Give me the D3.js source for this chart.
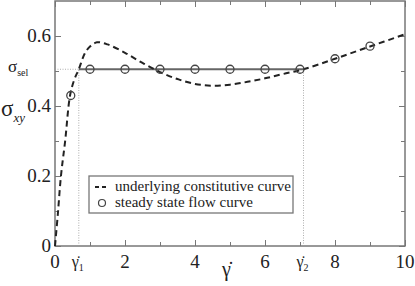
<!DOCTYPE html>
<html>
<head>
<meta charset="utf-8">
<script src="https://cdn.jsdelivr.net/npm/d3@7"></script>
</head>
<body style="margin:0; background:#fff">
<script>
// underlying constitutive curve
var curveGamma = [0, 0.08, 0.17, 0.29, 0.43, 0.55, 0.68, 0.85, 1.0, 1.2, 1.5, 2.0, 2.5, 3.0, 3.5, 4.0, 4.5, 5.0, 5.5, 6.0, 6.5, 7.1, 8.0, 9.0, 10.0];
var curveSigma = [0, 0.09, 0.2, 0.3, 0.43, 0.475, 0.505, 0.55, 0.57, 0.582, 0.576, 0.552, 0.523, 0.497, 0.477, 0.463, 0.458, 0.461, 0.469, 0.479, 0.491, 0.505, 0.535, 0.57, 0.605];

// steady state flow curve
var flowGamma = [0.45, 1, 2, 3, 4, 5, 6, 7, 8, 9];
var flowSigma = [0.43, 0.505, 0.505, 0.505, 0.505, 0.505, 0.505, 0.505, 0.535, 0.571];

var gamma1 = 0.68, gamma2 = 7.1, sigmaSel = 0.505;

var xMajor = [0, 2, 4, 6, 8, 10];
var xMinor = [1, 3, 5, 7, 9];
var yMajor = [0, 0.2, 0.4, 0.6];
var yMinor = [0.1, 0.3, 0.5];

var serif = "'Liberation Serif'";

var margin = { top: 1, right: 10, bottom: 40, left: 55 },
    width = 415 - margin.left - margin.right,
    height = 286 - margin.top - margin.bottom;

var x = d3.scaleLinear().domain([0, 10]).range([0, width]);
var y = d3.scaleLinear().domain([0, 0.7]).range([height, 0]);

var frameColor = "#777";

var svg = d3.select("body")
    .append("svg")
    .attr("width", 415)
    .attr("height", 286);

// ticks (inward, on all four sides), drawn with the axis generators
function tickAxis(axis, values, size) {
    return axis.tickValues(values).tickSize(-size).tickFormat("");
}
var axes = svg.append("g")
    .attr("transform", "translate(" + margin.left + "," + margin.top + ")");
[[d3.axisBottom(x), "translate(0," + height + ")", xMajor, 6],
 [d3.axisBottom(x), "translate(0," + height + ")", xMinor, 4],
 [d3.axisTop(x), "translate(0,0)", xMajor, 6],
 [d3.axisTop(x), "translate(0,0)", xMinor, 4],
 [d3.axisLeft(y), "translate(0,0)", yMajor, 6],
 [d3.axisLeft(y), "translate(0,0)", yMinor, 4],
 [d3.axisRight(y), "translate(" + width + ",0)", yMajor, 6],
 [d3.axisRight(y), "translate(" + width + ",0)", yMinor, 4]
].forEach(function (d) {
    var g = axes.append("g").attr("transform", d[1]).call(tickAxis(d[0], d[2], d[3]));
    g.select(".domain").remove();
    g.selectAll("text").remove();
    g.attr("font-family", null).attr("font-size", null);
    g.selectAll("line").attr("stroke", frameColor).attr("stroke-width", 1);
});

var svG = svg.append("g")
    .attr("transform", "translate(" + margin.left + "," + margin.top + ")");

function label(sel) {
    return sel.attr("font-family", "Liberation Serif").style("font-family", serif).attr("fill", "#222");
}

// frame
svG.append("rect")
    .attr("x", 0).attr("y", 0)
    .attr("width", width).attr("height", height)
    .attr("fill", "none")
    .attr("stroke", frameColor)
    .attr("stroke-width", 1.5);

// tick labels
svG.selectAll(".xlab")
    .data(xMajor)
    .enter()
    .append("text")
    .call(label)
    .attr("x", d => x(d))
    .attr("y", height + 22)
    .attr("text-anchor", "middle")
    .attr("font-size", 19)
    .text(d => d);

svG.selectAll(".ylab")
    .data(yMajor)
    .enter()
    .append("text")
    .call(label)
    .attr("x", -4)
    .attr("y", d => y(d) + 6)
    .attr("text-anchor", "end")
    .attr("font-size", 19)
    .text(d => d);

// gamma1 / gamma2 labels
[[gamma1, "1"], [gamma2, "2"]].forEach(function (d) {
    var t = svG.append("text")
        .call(label)
        .attr("x", x(d[0]) - 1)
        .attr("y", height + 21)
        .attr("text-anchor", "middle")
        .attr("font-size", 16);
    t.append("tspan").text("\u03b3\u0307");
    t.append("tspan").attr("font-size", 10).attr("dy", 4).text(d[1]);
});

// axis titles
svG.append("text")
    .call(label)
    .attr("x", x(4.9))
    .attr("y", height + 30)
    .attr("text-anchor", "middle")
    .attr("font-size", 20)
    .text("\u03b3\u0307");

var yt = svG.append("text")
    .call(label)
    .attr("x", -54)
    .attr("y", y(0.4) + 10)
    .attr("font-size", 23);
yt.append("tspan").text("\u03c3");
yt.append("tspan").attr("font-size", 13).attr("font-style", "italic").attr("dy", 6).text("xy");

var st = svG.append("text")
    .call(label)
    .attr("x", -47)
    .attr("y", y(sigmaSel) + 3)
    .attr("font-size", 17);
st.append("tspan").text("\u03c3");
st.append("tspan").attr("font-size", 10).attr("dy", 4).text("sel");

// dotted guide lines
var guides = [
    [[0, sigmaSel], [gamma1, sigmaSel]],
    [[gamma1, 0], [gamma1, sigmaSel]],
    [[gamma2, 0], [gamma2, sigmaSel]]
];
svG.selectAll(".guide")
    .data(guides)
    .enter()
    .append("line")
    .attr("x1", d => x(d[0][0])).attr("y1", d => y(d[0][1]))
    .attr("x2", d => x(d[1][0])).attr("y2", d => y(d[1][1]))
    .attr("stroke", "#999")
    .attr("stroke-width", 0.8)
    .attr("stroke-dasharray", "1,1.5");

// plateau
svG.append("line")
    .attr("x1", x(gamma1)).attr("y1", y(sigmaSel))
    .attr("x2", x(gamma2)).attr("y2", y(sigmaSel))
    .attr("stroke", "#666")
    .attr("stroke-width", 2.2);

// constitutive curve
var curvePts = curveGamma.map((g, i) => [g, curveSigma[i]]);
svG.append("path")
    .datum(curvePts)
    .attr("fill", "none")
    .attr("stroke", "#222")
    .attr("stroke-width", 2)
    .attr("stroke-dasharray", "6,4")
    .attr("d", d3.line().x(d => x(d[0])).y(d => y(d[1])).curve(d3.curveCatmullRom));

// flow curve circles
svG.selectAll(".flow")
    .data(flowGamma.map((g, i) => [g, flowSigma[i]]))
    .enter()
    .append("circle")
    .attr("cx", d => x(d[0]))
    .attr("cy", d => y(d[1]))
    .attr("r", 4)
    .attr("fill", "none")
    .attr("stroke", "#444")
    .attr("stroke-width", 1.3);

// legend
var lg = svG.append("g").attr("transform", "translate(" + (89 - margin.left) + "," + (176 - margin.top) + ")");
lg.append("rect")
    .attr("width", 204).attr("height", 37)
    .attr("fill", "#fff")
    .attr("stroke", frameColor)
    .attr("stroke-width", 1.3);
lg.append("line")
    .attr("x1", 6).attr("x2", 20).attr("y1", 11).attr("y2", 11)
    .attr("stroke", "#222").attr("stroke-width", 2).attr("stroke-dasharray", "4,3");
lg.append("circle")
    .attr("cx", 13).attr("cy", 27).attr("r", 3.5)
    .attr("fill", "none").attr("stroke", "#444").attr("stroke-width", 1.2);
lg.append("text").call(label).attr("x", 26).attr("y", 15).attr("font-size", 15).text("underlying constitutive curve");
lg.append("text").call(label).attr("x", 26).attr("y", 31).attr("font-size", 15).text("steady state flow curve");
</script>
</body>
</html>
